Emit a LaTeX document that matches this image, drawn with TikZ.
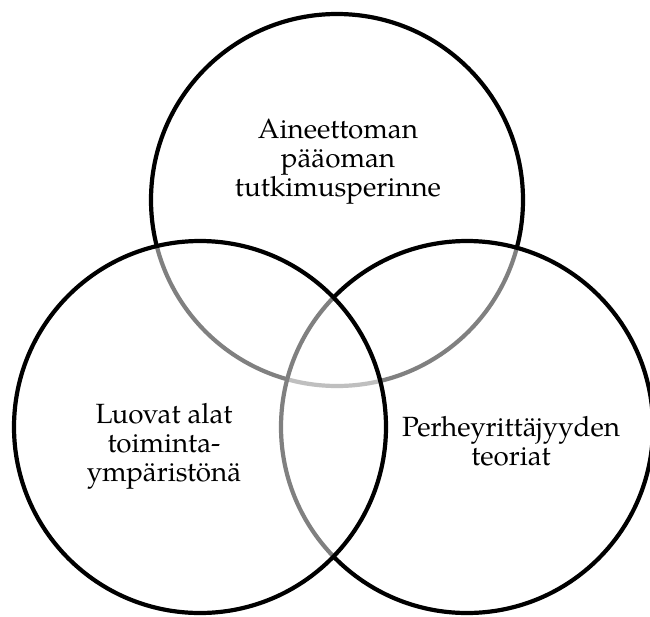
\documentclass[tikz,border=0pt]{standalone}
\usepackage{fontspec}
\setmainfont{TeX Gyre Pagella}
\begin{document}
\begin{tikzpicture}[x=1pt,y=-1pt,
  ring/.style={draw=black, line width=4.2pt, circle, minimum size=372pt, inner sep=0pt, fill=white, fill opacity=0.5, draw opacity=1},
  label/.style={align=center, inner sep=0pt, font=\fontsize{27.8}{29}\selectfont}]
\useasboundingbox (0,0) rectangle (650,616);
\node[ring] (topc) at (337,200) {};
\node[ring] (rightc) at (467,427) {};
\node[ring] (leftc) at (200,427) {};
\node[label] (toptext) at (338,162) {Aineettoman\\pääoman\\tutkimusperinne};
\node[label] (lefttext) at (164,446) {Luovat alat\\toiminta-\\ympäristönä};
\node[label] (righttext) at (511,441) {Perheyrittäjyyden\\teoriat};
\end{tikzpicture}
\end{document}
